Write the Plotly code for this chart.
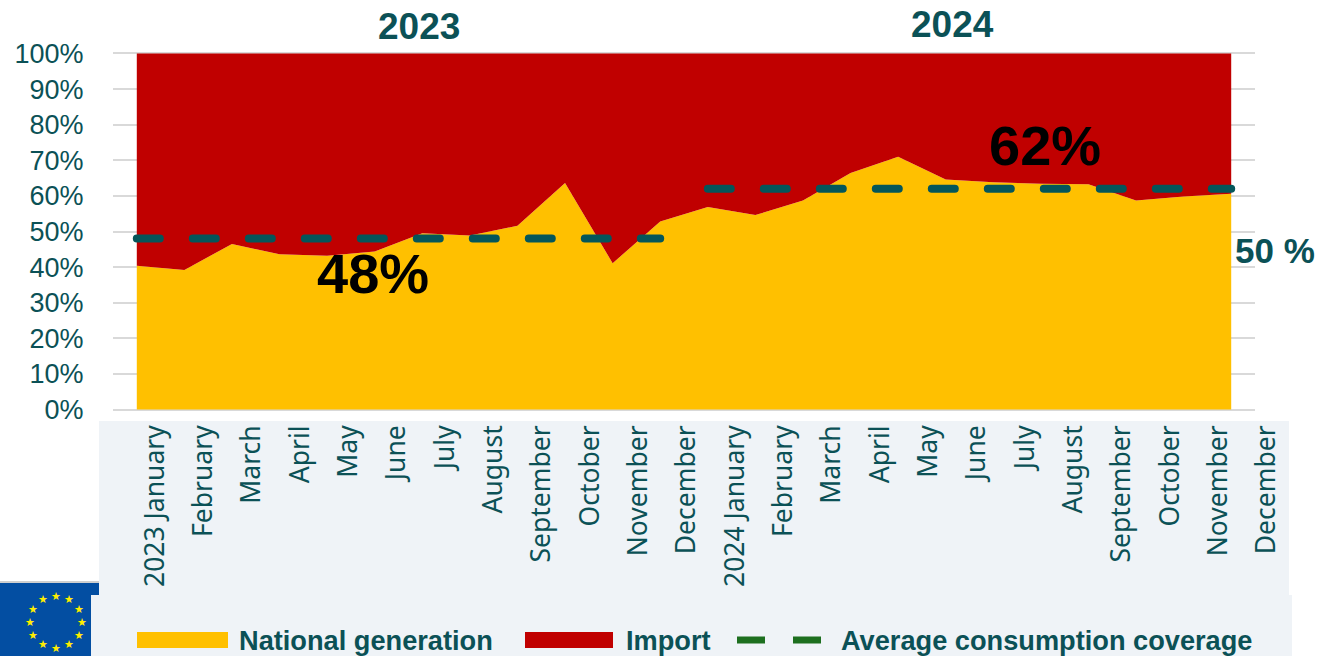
import math
import plotly.graph_objects as go

W, H = 1317, 656
months = ["2023 January", "February", "March", "April", "May", "June", "July", "August",
          "September", "October", "November", "December", "2024 January", "February", "March",
          "April", "May", "June", "July", "August", "September", "October", "November", "December"]
positions = list(range(24))
national = [40.4, 39.2, 46.5, 43.6, 43.2, 44.4, 49.5, 48.9, 51.6, 63.6, 41.1, 52.8,
            56.9, 54.6, 58.7, 66.4, 71.0, 64.6, 63.8, 63.4, 63.3, 58.7, 59.8, 60.6]
imports = [59.6, 60.8, 53.5, 56.4, 56.8, 55.6, 50.5, 51.1, 48.4, 36.4, 58.9, 47.2,
           43.1, 45.4, 41.3, 33.6, 29.0, 35.4, 36.2, 36.6, 36.7, 41.3, 40.2, 39.4]
avg_2023 = [48] * 12
avg_2024 = [62] * 12
y_ticks = list(range(0, 101, 10))
y_labels = [f"{v}%" for v in y_ticks]

TEAL = "#0b5156"
SANS = "Noto Sans, sans-serif"
BOLD = "Liberation Sans, sans-serif"


def px(x):
    return x / W


def py(y):
    return 1 - y / H


fig = go.Figure()
fig.add_trace(go.Scatter(x=positions, y=national, name="National generation", stackgroup="one",
                         mode="none", fillcolor="#ffc000", showlegend=False))
fig.add_trace(go.Scatter(x=positions, y=imports, name="Import", stackgroup="one",
                         mode="none", fillcolor="#c00000", showlegend=False))
for xs, ys in ((positions[:12], avg_2023), (positions[12:], avg_2024)):
    fig.add_trace(go.Scatter(x=xs, y=ys, name="Average consumption coverage", mode="lines",
                             line=dict(color="#04565a", width=8, dash="23px,33px"), showlegend=False))
# carrier of the month-label axis
fig.add_trace(go.Scatter(x=positions, y=[None] * 24, xaxis="x2", yaxis="y2", mode="lines",
                         showlegend=False, hoverinfo="skip"))


def rect(x0, y0, x1, y1, color):
    return dict(type="rect", xref="paper", yref="paper", x0=px(x0), x1=px(x1), y0=py(y0), y1=py(y1),
                fillcolor=color, line=dict(width=0), layer="below")


def seg(x0, x1, y, color, width):
    return dict(type="line", xref="paper", yref="paper", x0=px(x0), x1=px(x1), y0=py(y), y1=py(y),
                line=dict(color=color, width=width), layer="below")


PANEL = "#eff3f7"
shapes = [
    seg(0, 99, 582, "#bfbfbf", 1.5),
    rect(0, 583, 99, 595, "#034ea2"),
    rect(0, 595, 91, 656, "#034ea2"),
    rect(99, 421, 1289, 595, PANEL),
    rect(91, 595, 1292, 656, PANEL),
    rect(137, 632, 228, 648, "#ffc000"),
    rect(525, 632, 613, 648, "#c00000"),
    seg(737, 765, 640, "#1d6f1f", 7),
    seg(793, 821, 640, "#1d6f1f", 7),
]


def note(text, x, y, size, color=TEAL, family=BOLD, xanchor="center"):
    return dict(text=f"<b>{text}</b>", xref="paper", yref="paper", x=px(x), y=py(y),
                showarrow=False, xanchor=xanchor, yanchor="middle",
                font=dict(family=family, size=size, color=color))


annotations = [
    note("2023", 419, 27, 37),
    note("2024", 952, 25, 37),
    note("48%", 373, 273.5, 56, color="#000000"),
    note("62%", 1045, 145, 56, color="#000000"),
    note("50 %", 1275, 251, 35),
    note("National generation", 237, 640, 27.2, xanchor="left"),
    note("Import", 624, 640, 27.2, xanchor="left"),
    note("Average consumption coverage", 839, 640, 27.2, xanchor="left"),
]
for i in range(12):
    a = 2 * math.pi * i / 12
    annotations.append(dict(text="★", xref="paper", yref="paper", showarrow=False,
                            x=px(56 + 26 * math.sin(a)), y=py(622 - 26 * math.cos(a)),
                            xanchor="center", yanchor="middle",
                            font=dict(family="DejaVu Sans", size=11, color="#ffed00")))

fig.update_layout(
    width=W, height=H, margin=dict(l=0, r=0, t=0, b=0, autoexpand=False),
    paper_bgcolor="white", plot_bgcolor="rgba(0,0,0,0)", showlegend=False,
    shapes=shapes, annotations=annotations,
    xaxis=dict(domain=[px(113), px(1255)], range=[-0.5, 23.5], visible=False),
    xaxis2=dict(domain=[px(131), px(1291)], range=[-0.5, 23.5], anchor="free", position=py(419),
                tickmode="array", tickvals=positions, ticktext=months, tickangle=-90,
                showgrid=False, zeroline=False, showline=False, ticks="",
                tickfont=dict(family=SANS, size=26.5, color=TEAL)),
    yaxis=dict(domain=[py(411.3), py(51.7)], range=[-0.5, 100.5], tickmode="array",
               tickvals=y_ticks, ticktext=y_labels, showgrid=True,
               gridcolor="#d9d9d9", gridwidth=1.5, zeroline=False, showline=False,
               ticks="outside", ticklen=23, tickcolor="rgba(0,0,0,0)",
               tickfont=dict(family=BOLD, size=27, color=TEAL)),
    yaxis2=dict(domain=[py(595), py(423)], range=[0, 1], visible=False, anchor="x2"),
)

fig.write_html("out.html", config={"displayModeBar": False}, post_script="""
document.body.style.margin = '0';
document.querySelectorAll('.js-line').forEach(function (p) { p.style.strokeLinecap = 'round'; });
""")
